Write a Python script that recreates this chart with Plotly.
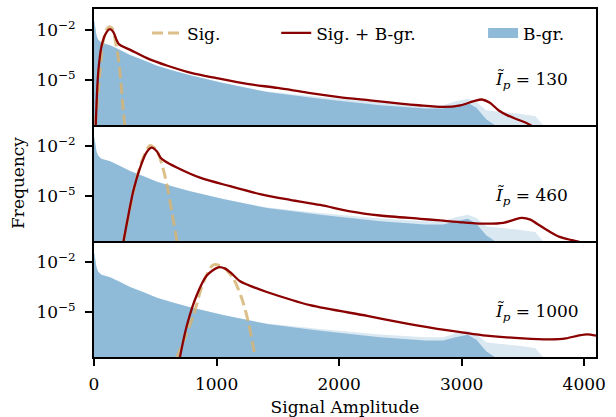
import numpy as np
import plotly.graph_objects as go
from plotly.subplots import make_subplots

# ---------------- data (log10 of frequency) ----------------
bg_x = [0, 8, 20, 33, 60, 131, 200, 294, 400, 514, 650, 784, 1053, 1412, 1845, 2335,
        2700, 2850, 2950, 3050, 3120, 3200, 3300, 3450, 3600, 3680]
bg_top = [-1.4, -1.7, -2.3, -2.55, -2.75, -2.91, -3.15, -3.49, -3.8, -4.15, -4.45, -4.73,
          -5.2, -5.72, -6.05, -6.38, -6.55, -6.55, -6.3, -6.15, -6.35, -6.85, -6.95, -7.05, -7.2, -7.9]
bg_dense = [-1.4, -1.7, -2.3, -2.55, -2.75, -2.91, -3.15, -3.49, -3.8, -4.15, -4.45, -4.73,
            -5.2, -5.75, -6.15, -6.55, -6.75, -6.75, -6.55, -6.4, -6.7, -7.4, -7.9, -7.9, -7.9, -7.9]

sig1_x = [10, 27, 49, 76, 103, 125, 150, 171, 199, 226, 240, 252]
sig1_y = [-7.8, -6.3, -4.5, -2.6, -1.95, -1.78, -1.9, -2.5, -3.7, -5.7, -7.0, -7.8]
red1_x = [14, 35, 63, 103, 131, 158, 185, 205, 300, 450, 600, 800, 1000, 1250, 1500, 1750,
          2000, 2250, 2500, 2650, 2850, 2990, 3100, 3165, 3230, 3300, 3370, 3450, 3520, 3570]
red1_y = [-7.8, -4.5, -2.9, -2.1, -1.92, -2.1, -2.6, -2.85, -3.2, -3.75, -4.15, -4.6, -4.9,
          -5.25, -5.5, -5.8, -6.05, -6.25, -6.45, -6.55, -6.65, -6.55, -6.3, -6.2, -6.4,
          -6.85, -7.15, -7.4, -7.6, -7.8]

sig2_x = [240, 294, 349, 403, 457, 512, 553, 594, 635, 678]
sig2_y = [-7.8, -5.76, -3.9, -2.66, -1.94, -2.25, -3.07, -4.3, -5.97, -7.8]
red2_x = [240, 280, 321, 376, 430, 471, 512, 545, 580, 675, 865, 1110, 1355, 1600, 1845,
          2090, 2335, 2661, 2824, 3015, 3205, 3339, 3430, 3490, 3560, 3614, 3722, 3800,
          3900, 3960]
red2_y = [-7.8, -6.2, -4.7, -3.3, -2.35, -2.08, -2.3, -2.7, -2.9, -3.28, -3.9, -4.42, -4.9,
          -5.25, -5.56, -5.95, -6.2, -6.4, -6.5, -6.62, -6.7, -6.65, -6.45, -6.35, -6.45,
          -6.7, -7.2, -7.5, -7.7, -7.8]

sig3_x = [675, 810, 893, 974, 1056, 1138, 1206, 1260, 1316]
sig3_y = [-7.8, -5.25, -3.2, -2.15, -2.3, -3.0, -4.2, -5.65, -7.8]
red3_x = [700, 757, 838, 920, 1015, 1070, 1120, 1192, 1300, 1410, 1763, 2229, 2500, 2767,
          3000, 3200, 3500, 3720, 3850, 3950, 4024, 4096]
red3_y = [-7.8, -5.85, -4.0, -2.8, -2.3, -2.38, -2.65, -3.15, -3.5, -3.8, -4.6, -5.25,
          -5.65, -6.0, -6.25, -6.45, -6.62, -6.68, -6.62, -6.45, -6.37, -6.45]

panel_labels = ["130", "460", "1000"]
x_ticks = [0, 1000, 2000, 3000, 4000]
y_ticks = [-2, -5]

# ---------------- styling ----------------
FONT = "DejaVu Serif"
FS = 17
BLUE = "#8fbbd9"
BLUE_LIGHT = "#dae8f2"
RED = "#8b0000"
TAN = "rgba(214,180,116,0.85)"

fig = make_subplots(rows=3, cols=1, shared_xaxes=True, vertical_spacing=0)

panels = [(sig1_x, sig1_y, red1_x, red1_y),
          (sig2_x, sig2_y, red2_x, red2_y),
          (sig3_x, sig3_y, red3_x, red3_y)]

def p(v):
    return np.power(10.0, np.array(v, dtype=float))

for i, (sx, sy, rx, ry) in enumerate(panels):
    r = i + 1
    fig.add_trace(go.Scatter(x=bg_x, y=p(bg_top), mode="none", fill="tozeroy",
                             fillcolor=BLUE_LIGHT, showlegend=False, hoverinfo="skip"),
                  row=r, col=1)
    fig.add_trace(go.Scatter(x=bg_x, y=p(bg_dense), mode="none", fill="tozeroy",
                             fillcolor=BLUE, showlegend=False, hoverinfo="skip"),
                  row=r, col=1)
    fig.add_trace(go.Scatter(x=sx, y=p(sy), mode="lines", name="Sig.",
                             line=dict(color=TAN, width=3, dash="11px,5px",
                                       shape="spline", smoothing=0.8),
                             showlegend=(i == 0), legend="legend"),
                  row=r, col=1)
    fig.add_trace(go.Scatter(x=rx, y=p(ry), mode="lines", name="Sig. + B-gr.",
                             line=dict(color=RED, width=2.3, shape="spline", smoothing=0.8),
                             showlegend=(i == 0), legend="legend2"),
                  row=r, col=1)

# legend-only entry for the background patch
fig.add_trace(go.Scatter(x=[None], y=[None], mode="lines", name="B-gr.",
                         line=dict(color=BLUE, width=14), legend="legend3"),
              row=1, col=1)

axis_common = dict(showline=True, linecolor="black", linewidth=1.8,
                   showgrid=False, zeroline=False, automargin=False)

for r in (1, 2, 3):
    fig.update_yaxes(type="log", range=[-7.75, -0.7],
                     tickvals=[10.0 ** v for v in y_ticks],
                     ticktext=["10<sup>\u2212%d</sup>" % (-v) for v in y_ticks],
                     ticks="outside", ticklen=7, tickwidth=1.5, tickcolor="black",
                     ticklabelstandoff=6, mirror=True,
                     tickfont=dict(family=FONT, size=FS, color="black"),
                     row=r, col=1, **axis_common)
    fig.update_xaxes(range=[0, 4096], tickvals=x_ticks,
                     ticks="outside" if r == 3 else "", ticklen=7, tickwidth=1.5,
                     tickcolor="black", showticklabels=(r == 3),
                     ticklabelstandoff=4, mirror=(r == 1),
                     tickfont=dict(family=FONT, size=FS, color="black"),
                     row=r, col=1, **axis_common)

fig.update_xaxes(title=dict(text="Signal Amplitude", standoff=8,
                            font=dict(family=FONT, size=FS, color="black")), row=3, col=1)
fig.update_yaxes(title=dict(text="Frequency", standoff=8,
                            font=dict(family=FONT, size=FS, color="black")), row=2, col=1)

for i, lab in enumerate(panel_labels):
    yref = "y domain" if i == 0 else "y%d domain" % (i + 1)
    xref = "x domain" if i == 0 else "x%d domain" % (i + 1)
    fig.add_annotation(text="<i>\u0128</i><sub><i>p</i></sub> = " + lab,
                       xref=xref, yref=yref, x=0.795, y=0.38,
                       xanchor="left", yanchor="middle", showarrow=False,
                       font=dict(family=FONT, size=FS, color="black"))

leg_common = dict(orientation="h", yanchor="middle", xanchor="left", y=0.93,
                  bgcolor="rgba(0,0,0,0)", borderwidth=0,
                  font=dict(family=FONT, size=FS, color="black"))

fig.update_layout(
    width=616, height=417,
    margin=dict(l=94, r=20, t=9, b=60),
    plot_bgcolor="white", paper_bgcolor="white",
    font=dict(family=FONT, size=FS, color="black"),
    legend=dict(x=0.1056, **leg_common),
    legend2=dict(x=0.363, **leg_common),
    legend3=dict(x=0.775, **leg_common),
)

fig.write_html("out.html")
